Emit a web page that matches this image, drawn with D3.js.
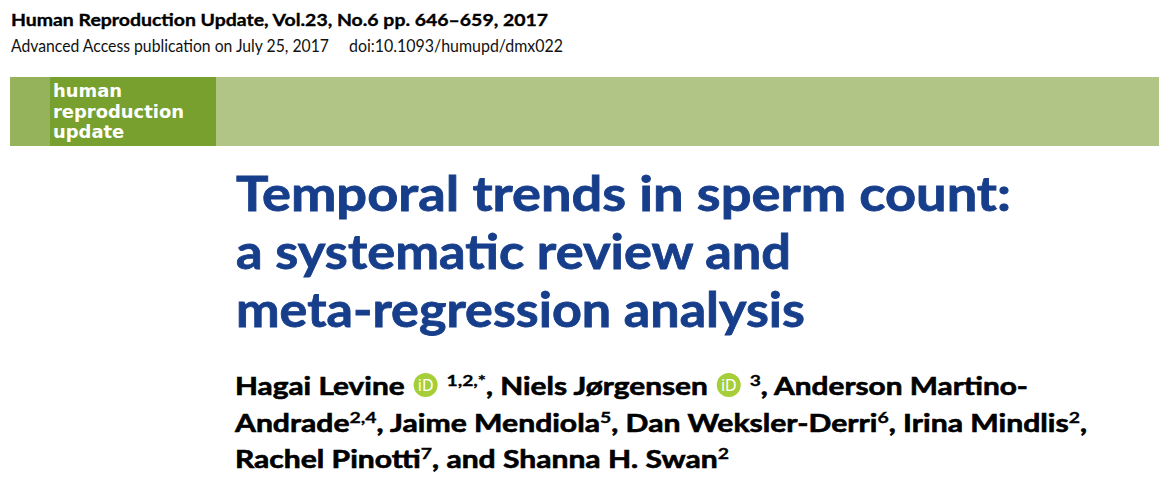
<!DOCTYPE html>
<html>
<head>
<meta charset="utf-8">
<script src="https://cdn.jsdelivr.net/npm/d3@7"></script>
<style>
  html, body { margin: 0; padding: 0; background: #fff; }
  svg text { white-space: pre; }
</style>
</head>
<body>
<svg id="page" width="1159" height="482"></svg>
<script>
// text content of the header
var journalLine = "Human Reproduction Update, Vol.23, No.6 pp. 646–659, 2017";
var accessParts = ["Advanced Access publication on July 25, 2017", "doi:10.1093/humupd/dmx022"];
var bannerWords = ["human", "reproduction", "update"];
var titleLines = [
    "Temporal trends in sperm count:",
    "a systematic review and",
    "meta-regression analysis"
];
// author lines: t = normal text, sup = superscript, orcid = iD badge, gap = space in em
var authorLine1 = [
    { t: "Hagai Levine" }, { gap: 0.3 }, { orcid: true }, { gap: 0.3 }, { sup: "1,2,*" },
    { t: ", Niels Jørgensen" }, { gap: 0.3 }, { orcid: true }, { gap: 0.3 }, { sup: "3" },
    { t: ", Anderson Martino-" }
];
var authorLine2 = [
    { t: "Andrade" }, { sup: "2,4" }, { t: ", Jaime Mendiola" }, { sup: "5" },
    { t: ", Dan Weksler-Derri" }, { sup: "6" }, { t: ", Irina Mindlis" }, { sup: "2" }, { t: "," }
];
var authorLine3 = [
    { t: "Rachel Pinotti" }, { sup: "7" }, { t: ", and Shanna H. Swan" }, { sup: "2" }
];
var authorLines = [authorLine1, authorLine2, authorLine3];

// layout
var blue = "#173e8b";
var font = "Lato, 'Open Sans', sans-serif";
var titleBase = [211, 269, 327];
var titleEnd = [1011, 791, 805];
var authorBase = [395, 432, 468];
var authorEnd = [1028, 1087, 729];

var svg = d3.select("#page");
svg.append("rect").attr("width", 1159).attr("height", 482).attr("fill", "#fff");

// fit a text element to run from x0 to x1
function fit(sel, x0, x1) {
    sel.attr("x", x0)
        .attr("textLength", x1 - x0)
        .attr("lengthAdjust", "spacingAndGlyphs");
    return sel;
}

// journal lines
fit(svg.append("text")
    .attr("y", 26)
    .attr("font-family", font)
    .attr("font-weight", 700)
    .attr("font-size", 17)
    .attr("fill", "#000")
    .attr("stroke", "#000")
    .attr("stroke-width", 0.35)
    .text(journalLine), 11, 548);

var access = svg.selectAll("text.access")
    .data(accessParts)
    .enter().append("text")
    .attr("class", "access")
    .attr("y", 52)
    .attr("font-family", font)
    .attr("font-size", 17.5)
    .attr("fill", "#111")
    .text(function (d) { return d; });
fit(access.filter(function (d, i) { return i == 0; }), 11, 329);
fit(access.filter(function (d, i) { return i == 1; }), 349, 563);

// green banner
var bands = [
    { x0: 10, x1: 50, c: "#95b35b" },
    { x0: 50, x1: 216, c: "#77a02e" },
    { x0: 216, x1: 1159, c: "#b1c686" }
];
svg.selectAll("rect.band")
    .data(bands)
    .enter().append("rect")
    .attr("class", "band")
    .attr("x", function (d) { return d.x0; })
    .attr("width", function (d) { return d.x1 - d.x0; })
    .attr("y", 77)
    .attr("height", 69)
    .attr("fill", function (d) { return d.c; });

var bannerY = d3.scalePoint().domain(bannerWords).range([97, 138]);
var banner = svg.selectAll("text.banner")
    .data(bannerWords)
    .enter().append("text")
    .attr("class", "banner")
    .attr("x", 53)
    .attr("y", function (d) { return bannerY(d); })
    .attr("font-family", "'DejaVu Sans', sans-serif")
    .attr("font-weight", "bold")
    .attr("font-size", 17)
    .attr("fill", "#fff")
    .text(function (d) { return d; });
// stretch all words alike so "reproduction" is about 131px wide
var widest = banner.filter(function (d) { return d == "reproduction"; }).node().getComputedTextLength();
banner.each(function () {
    d3.select(this)
        .attr("textLength", this.getComputedTextLength() * 131 / widest)
        .attr("lengthAdjust", "spacingAndGlyphs");
});

// title
svg.selectAll("text.title")
    .data(titleLines)
    .enter().append("text")
    .attr("class", "title")
    .attr("y", function (d, i) { return titleBase[i]; })
    .attr("font-family", font)
    .attr("font-weight", 700)
    .attr("font-size", 48)
    .attr("fill", blue)
    .attr("stroke", blue)
    .attr("stroke-width", 0.8)
    .text(function (d) { return d; })
    .each(function (d, i) { fit(d3.select(this), 236, titleEnd[i]); });

// authors
var mainSize = 24, supSize = 15.5, orcidR = 12;

function drawAuthorLine(segs, y, x0, x1) {
    var g = svg.append("g");
    var items = segs.map(function (s) {
        var w, el = null;
        if (s.orcid) {
            w = orcidR * 2;
        } else if (s.gap) {
            w = s.gap * mainSize;
        } else {
            el = g.append("text")
                .attr("y", s.sup ? y - 9 : y)
                .attr("font-family", font)
                .attr("font-weight", 700)
                .attr("font-size", s.sup ? supSize : mainSize)
                .attr("fill", "#000")
                .attr("stroke", "#000")
                .attr("stroke-width", s.sup ? 0.3 : 0.6)
                .text(s.sup ? s.sup : s.t);
            w = el.node().getComputedTextLength();
        }
        return { seg: s, w: w, el: el };
    });
    var fixedW = d3.sum(items, function (d) { return d.seg.orcid ? d.w : 0; });
    var total = d3.sum(items, function (d) { return d.seg.orcid ? 0 : d.w; });
    var k = (x1 - x0 - fixedW) / total;
    var cx = x0;
    items.forEach(function (it) {
        var w = it.seg.orcid ? it.w : it.w * k;
        if (it.el) {
            it.el.attr("x", cx).attr("textLength", w).attr("lengthAdjust", "spacingAndGlyphs");
        } else if (it.seg.orcid) {
            var mid = cx + w / 2;
            g.append("circle")
                .attr("cx", mid).attr("cy", y - 10)
                .attr("r", orcidR)
                .attr("fill", "#a6ce39");
            g.append("text")
                .attr("x", mid).attr("y", y - 4.5)
                .attr("text-anchor", "middle")
                .attr("font-family", "'DejaVu Sans', sans-serif")
                .attr("font-size", 15)
                .attr("fill", "#fff")
                .text("iD");
        }
        cx += w;
    });
}

authorLines.forEach(function (segs, i) {
    drawAuthorLine(segs, authorBase[i], 235, authorEnd[i]);
});
</script>
</body>
</html>
